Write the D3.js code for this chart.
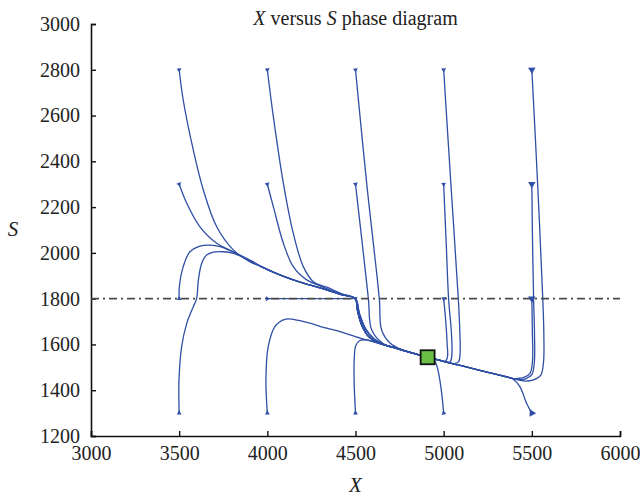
<!DOCTYPE html>
<html>
<head>
<meta charset="utf-8">
<script src="https://cdn.jsdelivr.net/npm/d3@7"></script>
<style>
  body { margin: 0; background: #fff; }
  text { font-family: "Liberation Serif", "DejaVu Serif", serif; fill: #222; }
</style>
</head>
<body>
<div id="chart"></div>
<script>
// ---- data (X, S) ----
var xTicks = [3000, 3500, 4000, 4500, 5000, 5500, 6000];
var yTicks = [1200, 1400, 1600, 1800, 2000, 2200, 2400, 2600, 2800, 3000];
var switchS = 1800;
var equilibrium = [4909, 1544];

// attracting branches the trajectories end up on
var upperBranch = [[3960,1942],[4040,1914],[4147,1882],[4250,1858],[4337,1838],[4420,1818],[4500,1800]];
var slideDown = [[4500,1800],[4512,1745],[4535,1685],[4575,1634],[4630,1607]];
var slideDownWide = [[4500,1800],[4522,1735],[4557,1668],[4605,1624],[4660,1600]];
var lowerLeft = [[4100,1710],[4185,1704],[4337,1671],[4412,1656],[4526,1628],[4630,1606],[4700,1590],[4800,1567],[4909,1544]];
var lowerRight = [[5450,1441],[5400,1450],[5300,1469],[5200,1488],[5100,1507],[5000,1526],[4909,1544]];

// first part of each trajectory, from its starting point
var t3500_2800 = [[3500,2800],[3523,2668],[3580,2450],[3637,2275],[3713,2114],[3807,2013],[3900,1962]];
var t3500_2300 = [[3500,2300],[3543,2217],[3618,2114],[3713,2042],[3807,2005],[3900,1965]];
var t3500_1800 = [[3500,1800],[3501,1852],[3523,1940],[3561,2005],[3618,2030],[3675,2034],[3732,2027],[3788,2010],[3845,1990],[3905,1966]];
var t3500_1300 = [[3500,1300],[3499,1445],[3514,1590],[3543,1692],[3580,1765],[3599,1800],[3609,1882],[3628,1955],[3656,1991],[3694,2003],[3750,2005],[3807,1998],[3864,1981],[3915,1963]];
var t4000_2800 = [[4000,2800],[4034,2595],[4091,2304],[4147,2086],[4204,1940],[4261,1874],[4337,1850],[4420,1822]];
var t4000_2300 = [[4000,2300],[4034,2202],[4091,2042],[4147,1940],[4223,1882],[4299,1856],[4380,1830]];
var t4000_1800 = [[4000,1800],[4250,1800],[4475,1800]];
var t4000_1300 = [[4000,1300],[3992,1445],[4005,1590],[4043,1678]];
var t4500_2800 = [[4500,2800],[4563,2307],[4635,1800],[4648,1663],[4696,1606],[4762,1577]];
var t4500_2300 = [[4500,2300],[4537,2050],[4573,1800],[4592,1663],[4658,1603],[4714,1589]];
var t4500_1800 = [[4500,1800]];
var t4500_1300 = [[4500,1300],[4492,1445],[4493,1540],[4502,1595],[4525,1617],[4563,1620]];
var t5000_2800 = [[5000,2800],[5041,2300],[5083,1800],[5092,1650],[5093,1560],[5085,1525],[5060,1516]];
var t5000_2300 = [[5000,2300],[5014,2050],[5028,1800],[5044,1650],[5047,1560],[5040,1528],[5025,1521]];
var t5000_1800 = [[5000,1800],[5012,1700],[5020,1600],[5022,1548],[5010,1526],[4985,1530]];
var t5000_1300 = [[5000,1300],[4951,1525]];
var t5500_2800 = [[5500,2800],[5533,2300],[5562,1800],[5568,1650],[5566,1520],[5550,1465],[5510,1445],[5460,1440]];
var t5500_2300 = [[5500,2300],[5504,2050],[5510,1800],[5515,1650],[5514,1520],[5500,1468],[5465,1450],[5420,1446]];
var t5500_1800 = [[5500,1800],[5503,1650],[5504,1530],[5490,1474],[5455,1456],[5405,1450]];
var t5500_1300 = [[5500,1300],[5470,1343],[5433,1415],[5395,1448],[5357,1459]];

// ---- layout ----
var width = 640, height = 501,
    margin = {top: 24, right: 20, bottom: 65, left: 91};
var chartWidth = width - margin.left - margin.right,
    chartHeight = height - margin.top - margin.bottom;

var lineColor = "#2f4fa6";

function last(a) { return a[a.length - 1]; }
function after(branch, x) { return branch.filter(function(p) { return p[0] > x; }); }
function before(branch, x) { return branch.filter(function(p) { return p[0] < x; }); }

function viaUpper(head, down) {
    return head.concat(after(upperBranch, last(head)[0]), down.slice(1), after(lowerLeft, last(down)[0]));
}
function onLowerLeft(head) { return head.concat(after(lowerLeft, last(head)[0])); }
function onLowerRight(head) { return head.concat(before(lowerRight, last(head)[0])); }

var trajectories = [
    viaUpper(t3500_2800, slideDown),
    viaUpper(t3500_2300, slideDown),
    viaUpper(t3500_1800, slideDown),
    viaUpper(t3500_1300, slideDown),
    viaUpper(t4000_2800, slideDownWide),
    viaUpper(t4000_2300, slideDownWide),
    t4000_1800.concat(slideDown, after(lowerLeft, last(slideDown)[0])),
    onLowerLeft(t4000_1300),
    onLowerLeft(t4500_2800),
    onLowerLeft(t4500_2300),
    t4500_1800.concat(slideDownWide.slice(1), after(lowerLeft, last(slideDownWide)[0])),
    onLowerLeft(t4500_1300),
    onLowerRight(t5000_2800),
    onLowerRight(t5000_2300),
    onLowerRight(t5000_1800),
    t5000_1300.concat([equilibrium]),
    onLowerRight(t5500_2800),
    onLowerRight(t5500_2300),
    onLowerRight(t5500_1800),
    onLowerRight(t5500_1300)
];

var svg = d3.select("#chart").append("svg")
    .attr("width", width)
    .attr("height", height);

var chartLayer = svg.append("g")
    .attr("transform", "translate(" + [margin.left, margin.top] + ")");

var x = d3.scaleLinear().domain([3000, 6000]).range([0, chartWidth]);
var y = d3.scaleLinear().domain([1200, 3000]).range([chartHeight, 0]);

// axes, ticks pointing inwards
var xAxis = chartLayer.append("g")
    .attr("transform", "translate(0," + chartHeight + ")")
    .call(d3.axisTop(x).tickValues(xTicks).tickSize(5).tickFormat(d3.format("d")));
xAxis.selectAll("text").attr("y", 17).attr("dy", "0.35em");

var yAxis = chartLayer.append("g")
    .call(d3.axisRight(y).tickValues(yTicks).tickSize(5).tickFormat(d3.format("d")));
yAxis.selectAll("text").attr("x", -11).attr("text-anchor", "end");

[xAxis, yAxis].forEach(function(a) {
    a.select(".domain").attr("stroke", "#111").attr("stroke-width", 1.6);
    a.selectAll(".tick line").attr("stroke", "#111").attr("stroke-width", 1.4);
    a.selectAll("text").attr("fill", "#222").attr("font-size", 20)
        .attr("font-family", "Liberation Serif, serif");
});

// trajectories
var line = d3.line()
    .x(function(d) { return x(d[0]); })
    .y(function(d) { return y(d[1]); })
    .curve(d3.curveCatmullRom.alpha(0.5));

chartLayer.append("g")
    .attr("class", "trajectories")
    .selectAll("path")
    .data(trajectories)
    .enter().append("path")
    .attr("d", line)
    .attr("fill", "none")
    .attr("stroke", lineColor)
    .attr("stroke-width", 1.3);

// switching line S = 1800
chartLayer.append("line")
    .attr("x1", x(3000)).attr("x2", x(6000))
    .attr("y1", y(switchS)).attr("y2", y(switchS))
    .attr("stroke", "#4a4a4a")
    .attr("stroke-width", 1.6)
    .attr("stroke-dasharray", "8,4,2,4");

// start markers, pointing along the initial direction
chartLayer.append("g")
    .selectAll("path")
    .data(trajectories)
    .enter().append("path")
    .attr("d", function(d) {
        return d3.symbol().type(d3.symbolTriangle).size(d[0][0] === 5500 ? 24 : 10)();
    })
    .attr("fill", lineColor)
    .attr("transform", function(d) {
        var p0 = d[0], p1 = d[1];
        var ang = Math.atan2(y(p1[1]) - y(p0[1]), x(p1[0]) - x(p0[0])) * 180 / Math.PI + 90;
        return "translate(" + x(p0[0]) + "," + y(p0[1]) + ") rotate(" + ang + ")";
    });

// equilibrium
chartLayer.append("rect")
    .attr("x", x(equilibrium[0]) - 7)
    .attr("y", y(equilibrium[1]) - 7)
    .attr("width", 14).attr("height", 14)
    .attr("fill", "#6abd45")
    .attr("stroke", "#111")
    .attr("stroke-width", 1.8);

// title and axis labels
var title = svg.append("text")
    .attr("x", margin.left + chartWidth / 2)
    .attr("y", 25)
    .attr("text-anchor", "middle")
    .attr("font-size", 20);
title.append("tspan").attr("font-style", "italic").text("X");
title.append("tspan").text(" versus ");
title.append("tspan").attr("font-style", "italic").text("S");
title.append("tspan").text(" phase diagram");

svg.append("text")
    .attr("x", margin.left + chartWidth / 2)
    .attr("y", 492)
    .attr("text-anchor", "middle")
    .attr("font-size", 21)
    .attr("font-style", "italic")
    .text("X");

svg.append("text")
    .attr("x", 13)
    .attr("y", 236)
    .attr("text-anchor", "middle")
    .attr("font-size", 21)
    .attr("font-style", "italic")
    .text("S");
</script>
</body>
</html>
